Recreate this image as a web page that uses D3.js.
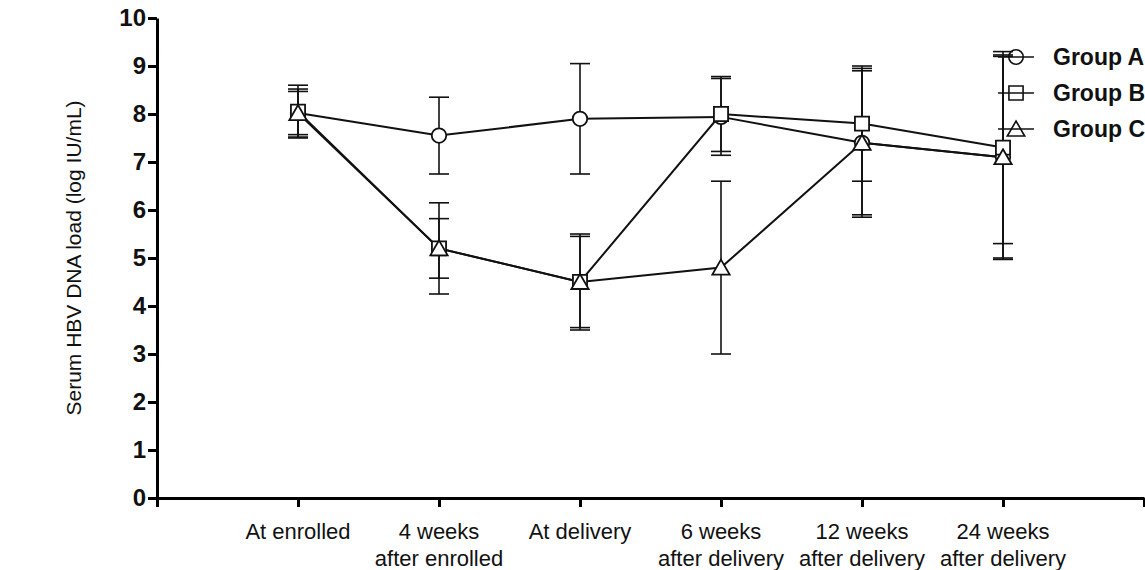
<!DOCTYPE html>
<html>
<head>
<meta charset="utf-8">
<script src="https://cdn.jsdelivr.net/npm/d3@7"></script>
<style>
  body { margin: 0; background: #fff; }
  svg { font-family: "Liberation Sans", Arial, sans-serif; }
</style>
</head>
<body>
<div class="canva"></div>
<script>
// time points (x positions 1..6, axis runs 0..7)
const categories = ["At enrolled", "4 weeks|after enrolled", "At delivery",
                    "6 weeks|after delivery", "12 weeks|after delivery", "24 weeks|after delivery"];
const groups = ["Group A", "Group B", "Group C"];

// means (log IU/mL)
const groupA = [8.02, 7.55, 7.90, 7.94, 7.40, 7.10];
const groupB = [8.05, 5.20, 4.50, 8.00, 7.80, 7.30];
const groupC = [8.02, 5.20, 4.50, 4.80, 7.40, 7.10];
// standard deviations
const sdA = [0.50, 0.80, 1.15, 0.80, 1.55, 2.13];
const sdB = [0.55, 0.95, 1.00, 0.78, 1.20, 2.00];
const sdC = [0.45, 0.62, 0.95, 1.80, 1.50, 2.10];

const yTicks = [0, 1, 2, 3, 4, 5, 6, 7, 8, 9, 10];

const svg = d3.select(".canva").append("svg")
    .attr("width", 1145)
    .attr("height", 570);

const margin = {top: 18, right: 1, bottom: 72, left: 157};
const width = 1145 - margin.left - margin.right;
const height = 570 - margin.top - margin.bottom;

const g = svg.append("g")
    .attr("transform", `translate(${margin.left},${margin.top})`);

const x = d3.scaleLinear().domain([0, 7]).range([0, width]);
const y = d3.scaleLinear().domain([0, 10]).range([height, 0]);

// y axis
const yAxis = g.append("g")
    .call(d3.axisLeft(y).tickValues(yTicks).tickSize(9).tickPadding(2).tickSizeOuter(0));
yAxis.select(".domain").attr("stroke-width", 3);
yAxis.selectAll(".tick line").attr("stroke-width", 3);
yAxis.selectAll(".tick text")
    .attr("font-size", 24).attr("font-weight", "bold").attr("fill", "#111");

// x axis
const xAxis = g.append("g")
    .attr("transform", `translate(0,${height})`)
    .call(d3.axisBottom(x).tickValues(d3.range(0, 8)).tickSize(9).tickSizeOuter(0).tickFormat(""));
xAxis.select(".domain").attr("stroke-width", 3);
xAxis.selectAll(".tick line").attr("stroke-width", 3);

// category labels (two lines)
categories.forEach((c, i) => {
  const lines = c.split("|");
  const t = g.append("text")
      .attr("x", x(i + 1))
      .attr("y", height + 41)
      .attr("text-anchor", "middle")
      .attr("font-size", 22)
      .attr("fill", "#111");
  lines.forEach((l, k) => {
    t.append("tspan").attr("x", x(i + 1)).attr("dy", k === 0 ? 0 : 27).text(l);
  });
});

// y axis title
svg.append("text")
    .attr("transform", `translate(81,${margin.top + height / 2}) rotate(-90)`)
    .attr("text-anchor", "middle")
    .attr("font-size", 21)
    .attr("fill", "#111")
    .text("Serum HBV DNA load (log IU/mL)");

const series = [
  {name: groups[0], mean: groupA, sd: sdA, shape: "circle"},
  {name: groups[1], mean: groupB, sd: sdB, shape: "square"},
  {name: groups[2], mean: groupC, sd: sdC, shape: "triangle"}
];

const line = d3.line()
    .x((d, i) => x(i + 1))
    .y(d => y(d));

const symbolPath = {
  circle: d3.symbol(d3.symbolCircle, 165)(),
  square: d3.symbol(d3.symbolSquare, 200)(),
  triangle: d3.symbol(d3.symbolTriangle, 130)()
};

// error bars
series.forEach(s => {
  const eb = g.append("g").attr("stroke", "#111").attr("stroke-width", 1.6);
  s.mean.forEach((m, i) => {
    const cx = x(i + 1);
    const hi = y(m + s.sd[i]), lo = y(m - s.sd[i]);
    eb.append("line").attr("x1", cx).attr("x2", cx).attr("y1", hi).attr("y2", lo);
    eb.append("line").attr("x1", cx - 10).attr("x2", cx + 10).attr("y1", hi).attr("y2", hi);
    eb.append("line").attr("x1", cx - 10).attr("x2", cx + 10).attr("y1", lo).attr("y2", lo);
  });
});

// lines
series.forEach(s => {
  g.append("path")
      .datum(s.mean)
      .attr("fill", "none")
      .attr("stroke", "#111")
      .attr("stroke-width", 2)
      .attr("d", line);
});

// markers
series.forEach(s => {
  g.selectAll(null)
      .data(s.mean)
      .enter()
      .append("path")
      .attr("d", symbolPath[s.shape])
      .attr("transform", (d, i) => `translate(${x(i + 1)},${y(d) + (s.shape === "triangle" ? 2 : 0)})`)
      .attr("fill", "#fff")
      .attr("stroke", "#111")
      .attr("stroke-width", 1.8);
});

// legend
const legend = svg.append("g").attr("transform", "translate(998,57)");
series.forEach((s, i) => {
  const row = legend.append("g").attr("transform", `translate(0,${i * 36})`);
  row.append("line")
      .attr("x1", 0).attr("x2", 36).attr("y1", 0).attr("y2", 0)
      .attr("stroke", "#111").attr("stroke-width", 1.6);
  row.append("path")
      .attr("d", symbolPath[s.shape])
      .attr("transform", `translate(18,${s.shape === "triangle" ? 2 : 0})`)
      .attr("fill", "none")
      .attr("stroke", "#111").attr("stroke-width", 1.6);
  row.append("text")
      .attr("x", 55).attr("y", 8)
      .attr("font-size", 23).attr("font-weight", "bold").attr("fill", "#111")
      .text(s.name);
});
</script>
</body>
</html>
